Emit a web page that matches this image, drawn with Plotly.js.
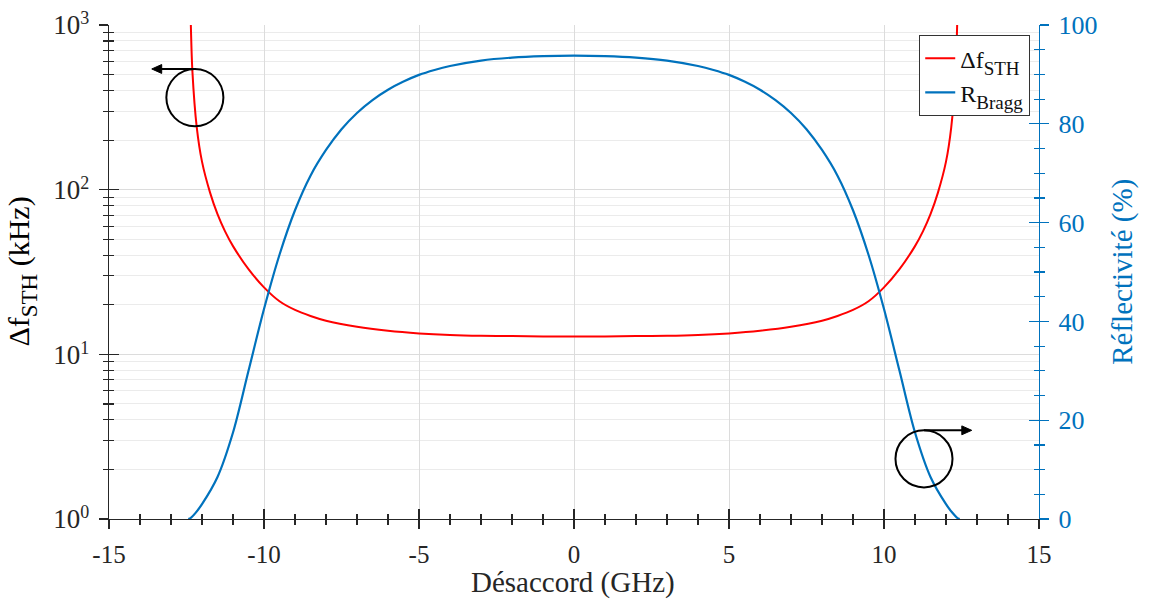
<!DOCTYPE html>
<html>
<head>
<meta charset="utf-8">
<script src="https://cdn.plot.ly/plotly-3.0.1.min.js"></script>
<style>
html,body{margin:0;padding:0;background:#fff;}
#chart{width:1149px;height:603px;}
</style>
</head>
<body>
<div id="chart"></div>
<script>
// Δf_STH (kHz) vs detuning (GHz)
const detuningDf = [-12.36, -12.31, -12.17, -12.0, -11.74, -11.5, -11.26, -11.0, -10.5, -10.0, -9.5, -9.0, -8.5, -8.0, -7.0, -6.0, -5.0, -4.0, -3.0, -2.0, -1.0, 0, 1.0, 2.0, 3.0, 4.0, 5.0, 6.0, 7.0, 8.0, 8.5, 9.0, 9.5, 10.0, 10.5, 11.0, 11.26, 11.5, 11.74, 12.0, 12.17, 12.31, 12.36];
const linewidthDf = [1000, 525, 240, 148, 96, 71, 56, 45.4, 32.9, 25.5, 21.0, 18.6, 17.1, 16.0, 14.7, 13.9, 13.4, 13.1, 12.95, 12.9, 12.85, 12.85, 12.85, 12.9, 12.95, 13.1, 13.4, 13.9, 14.7, 16.0, 17.1, 18.6, 21.0, 25.5, 32.9, 45.4, 56, 71, 96, 148, 240, 525, 1000];

// Bragg reflectivity (%) vs detuning (GHz)
const detuningR = [-12.44, -12.35, -12.2, -12.0, -11.5, -11.0, -10.5, -10.0, -9.5, -9.0, -8.5, -8.0, -7.5, -7.0, -6.5, -6.0, -5.5, -5.0, -4.5, -4.0, -3.0, -2.0, -1.0, 0, 1.0, 2.0, 3.0, 4.0, 4.5, 5.0, 5.5, 6.0, 6.5, 7.0, 7.5, 8.0, 8.5, 9.0, 9.5, 10.0, 10.5, 11.0, 11.5, 12.0, 12.2, 12.35, 12.44];
const reflectivity = [0, 0.3, 1.3, 3.0, 8.5, 17.5, 30.0, 42.5, 53.5, 62.5, 69.5, 74.7, 78.9, 82.2, 84.8, 86.9, 88.55, 89.9, 90.9, 91.7, 92.8, 93.4, 93.7, 93.8, 93.7, 93.4, 92.8, 91.7, 90.9, 89.9, 88.55, 86.9, 84.8, 82.2, 78.9, 74.7, 69.5, 62.5, 53.5, 42.5, 30.0, 17.5, 8.5, 3.0, 1.3, 0.3, 0];

// Tick definitions
const xTicks = [-15, -10, -5, 0, 5, 10, 15];
const xTickText = ['-15', '-10', '-5', '0', '5', '10', '15'];
const yTicks = [1, 10, 100, 1000];
const yExponents = ['0', '1', '2', '3'];
const yMinor = [];
[1, 10, 100].forEach(d => { for (let k = 2; k <= 9; k++) yMinor.push(k * d); });
const rTicks = [0, 20, 40, 60, 80, 100];

const RED = '#ff0000';
const BLUE = '#0072bd';
const AX = '#262626';
const FONT = 'Liberation Serif';

const sup = (t, size, shift) => '<span style="font-size:' + size + 'px;baseline-shift:' + shift + 'px">' + t + '</span>';
const sub = (t, size, shift) => '<span style="font-size:' + size + 'px;baseline-shift:-' + shift + 'px">' + t + '</span>';
const yTickText = yExponents.map(e => '10' + sup(e, 18, 10));

const traces = [
  {x: detuningDf, y: linewidthDf, type: 'scatter', mode: 'lines',
   name: 'Δf' + sub('STH', 19, 7),
   line: {color: RED, width: 2, shape: 'spline', smoothing: 0.8}, xaxis: 'x', yaxis: 'y'},
  {x: detuningR, y: reflectivity, type: 'scatter', mode: 'lines',
   name: 'R' + sub('Bragg', 19, 7),
   line: {color: BLUE, width: 2.2, shape: 'spline', smoothing: 0.9}, xaxis: 'x', yaxis: 'y2'},
  {x: [null], y: [null], xaxis: 'x2', yaxis: 'y3', showlegend: false, hoverinfo: 'skip'},
  {x: [null], y: [null], xaxis: 'x2', yaxis: 'y4', showlegend: false, hoverinfo: 'skip'}
];

const layout = {
  width: 1149, height: 603,
  margin: {l: 109, r: 110, t: 25, b: 84},
  paper_bgcolor: '#ffffff', plot_bgcolor: '#ffffff',
  showlegend: true,
  legend: {x: 0.871, y: 0.98, xanchor: 'left', yanchor: 'top', bgcolor: '#ffffff',
           bordercolor: '#333333', borderwidth: 1.2, font: {family: FONT, size: 24, color: '#111111'},
           itemwidth: 30, tracegroupgap: 0},
  xaxis: {range: [-15, 15], tickmode: 'array', tickvals: xTicks, ticktext: xTickText,
          ticks: 'inside', ticklen: 10, tickwidth: 1.3, tickcolor: AX,
          showline: true, linecolor: AX, linewidth: 1.3, zeroline: false,
          showgrid: true, gridcolor: '#dcdcdc', gridwidth: 1,
          minor: {dtick: 1, tick0: 0, ticks: 'inside', ticklen: 5, tickwidth: 1.2, tickcolor: AX, showgrid: false},
          tickfont: {family: FONT, size: 25, color: AX}, ticklabelstandoff: 13, fixedrange: true},
  xaxis2: {overlaying: 'x', range: [-15, 15], side: 'bottom', anchor: 'y3', tickmode: 'array', tickvals: xTicks,
           ticks: 'outside', ticklen: 9, tickwidth: 1.3, tickcolor: AX, showticklabels: false,
           showline: false, showgrid: false, zeroline: false,
           minor: {dtick: 1, tick0: 0, ticks: 'outside', ticklen: 5, tickwidth: 1.2, tickcolor: AX, showgrid: false},
           fixedrange: true},
  yaxis: {type: 'log', range: [0, 3], tickmode: 'array', tickvals: yTicks, ticktext: yTickText,
          ticks: 'inside', ticklen: 10, tickwidth: 1.3, tickcolor: AX,
          showline: true, linecolor: AX, linewidth: 1.3, zeroline: false,
          showgrid: true, gridcolor: '#dcdcdc', gridwidth: 1,
          minor: {tickmode: 'array', tickvals: yMinor, ticks: 'inside', ticklen: 5, tickwidth: 1.2, tickcolor: AX,
                  showgrid: true, gridcolor: '#ebebeb', gridwidth: 1},
          tickfont: {family: FONT, size: 27, color: AX}, ticklabelstandoff: 13, fixedrange: true},
  yaxis2: {overlaying: 'y', side: 'right', range: [0, 100], tickmode: 'array', tickvals: rTicks,
           ticks: 'inside', ticklen: 10, tickwidth: 1.3, tickcolor: BLUE,
           showline: true, linecolor: BLUE, linewidth: 1.3, zeroline: false, showgrid: false,
           minor: {dtick: 5, tick0: 0, ticks: 'inside', ticklen: 5, tickwidth: 1.2, tickcolor: BLUE, showgrid: false},
           tickfont: {family: FONT, size: 26, color: BLUE}, ticklabelstandoff: 13, fixedrange: true},
  yaxis3: {overlaying: 'y', side: 'left', anchor: 'x2', type: 'log', range: [0, 3], tickmode: 'array', tickvals: yTicks,
           ticks: 'outside', ticklen: 9, tickwidth: 1.3, tickcolor: AX, showticklabels: false,
           showline: false, showgrid: false, zeroline: false,
           minor: {tickmode: 'array', tickvals: yMinor, ticks: 'outside', ticklen: 5, tickwidth: 1.2, tickcolor: AX, showgrid: false},
           fixedrange: true},
  yaxis4: {overlaying: 'y', side: 'right', anchor: 'x2', range: [0, 100], tickmode: 'array', tickvals: rTicks,
           ticks: 'outside', ticklen: 9, tickwidth: 1.3, tickcolor: BLUE, showticklabels: false,
           showline: false, showgrid: false, zeroline: false,
           minor: {dtick: 5, tick0: 0, ticks: 'outside', ticklen: 5, tickwidth: 1.2, tickcolor: BLUE, showgrid: false},
           fixedrange: true},
  shapes: [
    {type: 'circle', xref: 'x', yref: 'y2', x0: -13.15, x1: -11.31, y0: 79.5, y1: 91.1,
     line: {color: '#000', width: 2}},
    {type: 'circle', xref: 'x', yref: 'y2', x0: 10.37, x1: 12.21, y0: 6.4, y1: 17.95,
     line: {color: '#000', width: 2}},
    {type: 'line', xref: 'x', yref: 'y2', x0: -12.2, x1: -13.35, y0: 91.1, y1: 91.1,
     line: {color: '#000', width: 2}},
    {type: 'path', xref: 'x', yref: 'y2', path: 'M -13.62 91.1 L -13.3 92.0 L -13.3 90.2 Z',
     fillcolor: '#000', line: {color: '#000', width: 1}},
    {type: 'line', xref: 'x', yref: 'y2', x0: 11.29, x1: 12.55, y0: 17.95, y1: 17.95,
     line: {color: '#000', width: 2}},
    {type: 'path', xref: 'x', yref: 'y2', path: 'M 12.83 17.95 L 12.51 18.85 L 12.51 17.05 Z',
     fillcolor: '#000', line: {color: '#000', width: 1}}
  ],
  annotations: [
    {xref: 'paper', yref: 'paper', x: 0.499, y: -0.128, xanchor: 'center', yanchor: 'middle',
     text: 'Désaccord (GHz)', showarrow: false, font: {family: FONT, size: 29, color: AX}},
    {xref: 'paper', yref: 'paper', x: -0.094, y: 0.5, xanchor: 'center', yanchor: 'middle', textangle: -90,
     text: 'Δf' + sub('STH', 23, 8) + ' (kHz)', showarrow: false,
     font: {family: FONT, size: 30, color: '#000000'}},
    {xref: 'paper', yref: 'paper', x: 1.089, y: 0.5, xanchor: 'center', yanchor: 'middle', textangle: -90,
     text: 'Réflectivité (%)', showarrow: false, font: {family: FONT, size: 29, color: BLUE}}
  ]
};

Plotly.newPlot('chart', traces, layout, {staticPlot: true});
</script>
</body>
</html>
